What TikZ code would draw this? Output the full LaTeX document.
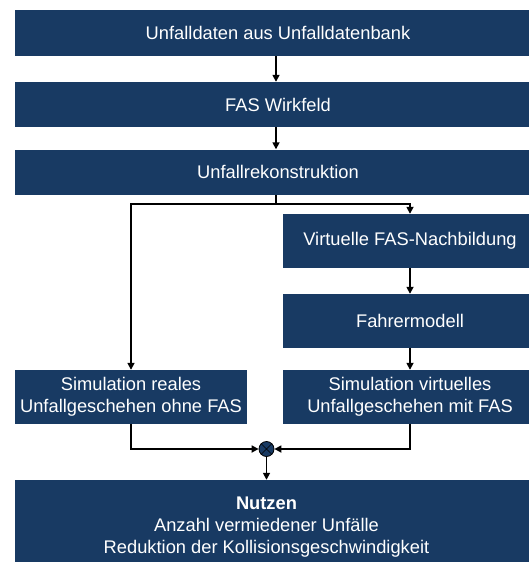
\documentclass[tikz,border=0pt]{standalone}
\usepackage{fontspec}
\setmainfont{Liberation Sans}
\usetikzlibrary{arrows.meta}
\definecolor{boschblue}{RGB}{24,58,99}
\begin{document}
\begin{tikzpicture}[x=1pt,y=1pt,
  box/.style={fill=boschblue, draw=none, text=white, inner sep=0pt,
    align=center, font=\fontsize{18.3}{22}\selectfont},
  flow/.style={line width=1.6pt, draw=black},
  arr/.style={flow, -{Triangle[length=7pt,width=7pt]}},
  joint/.style={circle, fill=boschblue, draw=black, line width=0.8pt,
    minimum size=15pt, inner sep=0pt}]
\useasboundingbox (0,0) rectangle (529,-562);
\begin{scope}
\clip (0,0) rectangle (529,-562);
% main column
\node[box, minimum width=526pt, minimum height=46pt] (daten) at (278,-33) {Unfalldaten aus Unfalldatenbank};
\node[box, minimum width=526pt, minimum height=45pt] (wirk) at (278,-104.5) {FAS Wirkfeld};
\node[box, minimum width=526pt, minimum height=45.5pt] (rek) at (278,-172.25) {Unfallrekonstruktion};
% right branch
\node[box, minimum width=254pt, minimum height=54pt] (virt) at (410,-241) {Virtuelle FAS-Nachbildung};
\node[box, minimum width=254pt, minimum height=53.5pt] (fahrer) at (410,-320.75) {Fahrermodell};
% simulations
\node[box, minimum width=232pt, minimum height=53.5pt] (siml) at (131,-396.75) {Simulation reales\\Unfallgeschehen ohne FAS};
\node[box, minimum width=254pt, minimum height=53.5pt] (simr) at (410,-396.75) {Simulation virtuelles\\Unfallgeschehen mit FAS};
% result
\node[box, minimum width=514pt, minimum height=82pt] (nutzen) at (272,-521) {};
\node[box, fill=none] (nutzentext) at (266.5,-527.5) {\textbf{Nutzen}\\Anzahl vermiedener Unfälle\\Reduktion der Kollisionsgeschwindigkeit};
\end{scope}
% comparison joint
\node[joint] (cmp) at (266.5,-449) {};
\draw[line width=0.6pt] (cmp.north west) -- (cmp.south east) (cmp.north east) -- (cmp.south west);
% connectors
\coordinate (split) at (276,-204);
\draw[arr] (daten.south -| split) -- (wirk.north -| split);
\draw[arr] (wirk.south -| split) -- (rek.north -| split);
\draw[flow] (rek.south -| split) -- (split);
\draw[arr] (split) -| (siml.north);
\draw[arr] (split) -| (virt.north);
\draw[arr] (virt.south) -- (fahrer.north);
\draw[arr] (fahrer.south) -- (simr.north);
\draw[arr] (siml.south) |- (cmp.west);
\draw[arr] (simr.south) |- (cmp.east);
\draw[arr] (cmp.south) -- (cmp.south |- nutzen.north);
\end{tikzpicture}
\end{document}
